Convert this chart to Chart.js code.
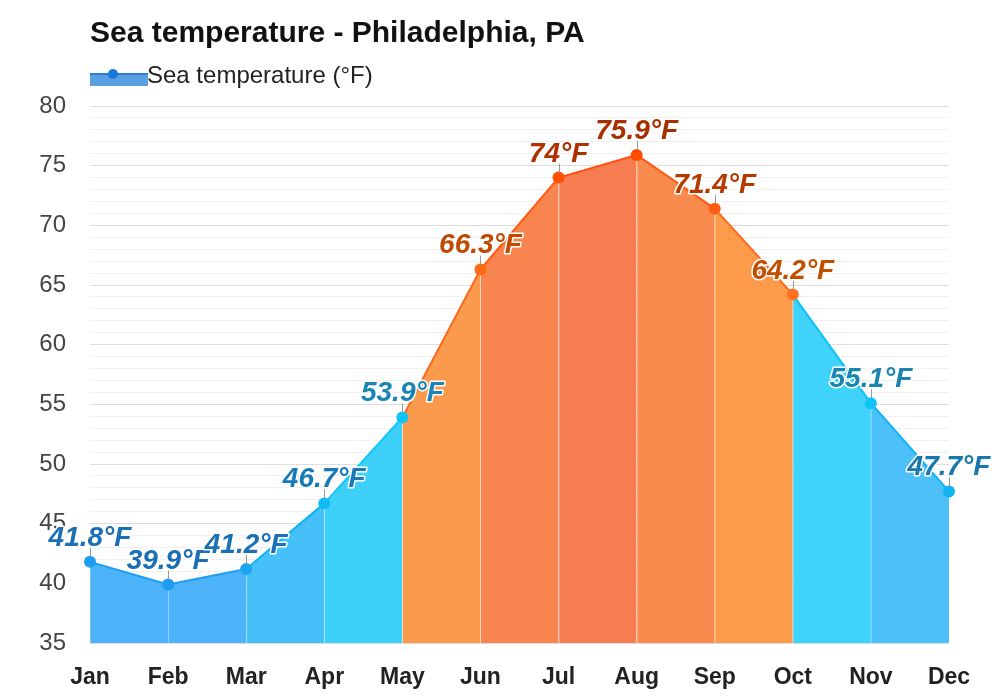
<!DOCTYPE html>
<html>
<head>
<meta charset="utf-8">
<script src="https://cdn.jsdelivr.net/npm/chart.js@4.4.0/dist/chart.umd.min.js"></script>
<style>
  body { margin: 0; background: #fff; font-family: "Liberation Sans", Arial, sans-serif; }
  #wrap { position: relative; width: 1000px; height: 700px; }
  #title { position: absolute; left: 90px; top: 15px; font-size: 30px; line-height: 34px; font-weight: bold; color: #111; white-space: nowrap; }
  #legend { position: absolute; left: 90px; top: 61px; height: 28px; }
  #legend .box { position: absolute; left: 0; top: 13px; width: 58px; height: 12px; background: #5a9fe0; }
  #legend .line { position: absolute; left: 0; top: 12px; width: 58px; height: 2px; background: #2a7fd4; }
  #legend .dot { position: absolute; left: 18px; top: 8px; width: 10px; height: 10px; border-radius: 50%; background: #1a78d8; }
  #legend .txt { position: absolute; left: 57px; top: 0; font-size: 24px; line-height: 28px; color: #222; white-space: nowrap; }
</style>
</head>
<body>
<div id="wrap">
  <canvas id="chartCanvas" width="1000" height="700"></canvas>
  <div id="title">Sea temperature - Philadelphia, PA</div>
  <div id="legend"><div class="box"></div><div class="line"></div><div class="dot"></div><div class="txt">Sea temperature (°F)</div></div>
</div>
<script>
const months = ['Jan', 'Feb', 'Mar', 'Apr', 'May', 'Jun', 'Jul', 'Aug', 'Sep', 'Oct', 'Nov', 'Dec'];
const seaTemp = [41.8, 39.9, 41.2, 46.7, 53.9, 66.3, 74, 75.9, 71.4, 64.2, 55.1, 47.7];
const yMin = 35;
const yMax = 80;

// colours per segment (between month i and i+1) and per point
const fillColors = ['#4db3f9', '#4cb2f9', '#45c0f9', '#3dd1fa', '#fb9a4c', '#f8844f', '#f57d50', '#f98a4e', '#fd9b4a', '#3fd2fa', '#4cc1f9'];
const lineColors = ['#1e9ef5', '#1e9ef5', '#10b4f5', '#10c6f7', '#fa6a1e', '#ff5a10', '#ff5010', '#ff5a14', '#ff6a20', '#10c2f7', '#10b2f5'];
const pointColors = ['#1e9cf2', '#1e9cf2', '#1ea6f2', '#10bcf5', '#10c4f7', '#ff6a10', '#ff5000', '#ff4a00', '#ff5a10', '#ff7020', '#10c4f7', '#10b4f5'];
const labelColors = ['#1a6fb5', '#1a6fb5', '#1a72b5', '#1a7ab8', '#1a85b5', '#c04a00', '#b03000', '#a83000', '#b43a00', '#c05000', '#1a85b0', '#1a78b0'];

const monthLines = {
    id: 'monthLines',
    beforeDatasetDraw(chart) {
        const ctx = chart.ctx;
        const bottom = chart.chartArea.bottom;
        ctx.save();
        ctx.strokeStyle = 'rgba(255,255,255,0.25)';
        ctx.lineWidth = 1;
        chart.getDatasetMeta(0).data.forEach(pt => {
            ctx.beginPath();
            ctx.moveTo(Math.round(pt.x) + 0.5, pt.y);
            ctx.lineTo(Math.round(pt.x) + 0.5, bottom);
            ctx.stroke();
        });
        ctx.restore();
    }
};

const valueLabels = {
    id: 'valueLabels',
    afterDatasetsDraw(chart) {
        const ctx = chart.ctx;
        ctx.save();
        ctx.font = 'italic bold 28px "Liberation Sans", Arial, sans-serif';
        ctx.textAlign = 'center';
        ctx.textBaseline = 'alphabetic';
        chart.getDatasetMeta(0).data.forEach((pt, i) => {
            // leader line
            ctx.strokeStyle = '#999';
            ctx.lineWidth = 1;
            ctx.beginPath();
            ctx.moveTo(Math.round(pt.x) + 0.5, pt.y - 14);
            ctx.lineTo(Math.round(pt.x) + 0.5, pt.y - 5);
            ctx.stroke();
            const txt = seaTemp[i] + '°F';
            ctx.lineWidth = 3;
            ctx.lineJoin = 'round';
            ctx.strokeStyle = '#fff';
            ctx.strokeText(txt, pt.x, pt.y - 16);
            ctx.fillStyle = labelColors[i];
            ctx.fillText(txt, pt.x, pt.y - 16);
        });
        ctx.restore();
    }
};

const ctx = document.getElementById('chartCanvas').getContext('2d');
window.myChart = new Chart(ctx, {
    type: 'line',
    data: {
        labels: months,
        datasets: [{
            label: 'Sea temperature (°F)',
            data: seaTemp,
            fill: 'start',
            tension: 0,
            borderWidth: 2,
            pointRadius: 6,
            pointHoverRadius: 6,
            pointBorderWidth: 0,
            pointBackgroundColor: pointColors,
            borderColor: lineColors[0],
            backgroundColor: fillColors[0],
            segment: {
                backgroundColor: c => fillColors[c.p0DataIndex],
                borderColor: c => lineColors[c.p0DataIndex]
            }
        }]
    },
    options: {
        responsive: false,
        animation: false,
        layout: { padding: { top: 106, right: 51, left: 0, bottom: 0 } },
        plugins: {
            legend: { display: false },
            title: { display: false },
            tooltip: { enabled: false }
        },
        scales: {
            x: {
                offset: false,
                grid: { display: false },
                border: { display: false },
                ticks: {
                    padding: 13,
                    color: '#222',
                    font: { family: '"Liberation Sans", Arial, sans-serif', size: 23, weight: 'bold' },
                    maxRotation: 0,
                    autoSkip: false
                },
                afterFit: s => { s.height = 57; }
            },
            y: {
                min: yMin,
                max: yMax,
                border: { display: false },
                grid: {
                    drawTicks: false,
                    color: c => (c.tick.value % 5 === 0 ? '#dddddd' : '#f0f0f0'),
                    lineWidth: 1
                },
                ticks: {
                    stepSize: 1,
                    autoSkip: false,
                    padding: 24,
                    color: '#444',
                    font: { family: '"Liberation Sans", Arial, sans-serif', size: 24 },
                    callback: v => (v % 5 === 0 ? v : '')
                },
                afterFit: s => { s.width = 90; }
            }
        }
    },
    plugins: [monthLines, valueLabels]
});
</script>
</body>
</html>
